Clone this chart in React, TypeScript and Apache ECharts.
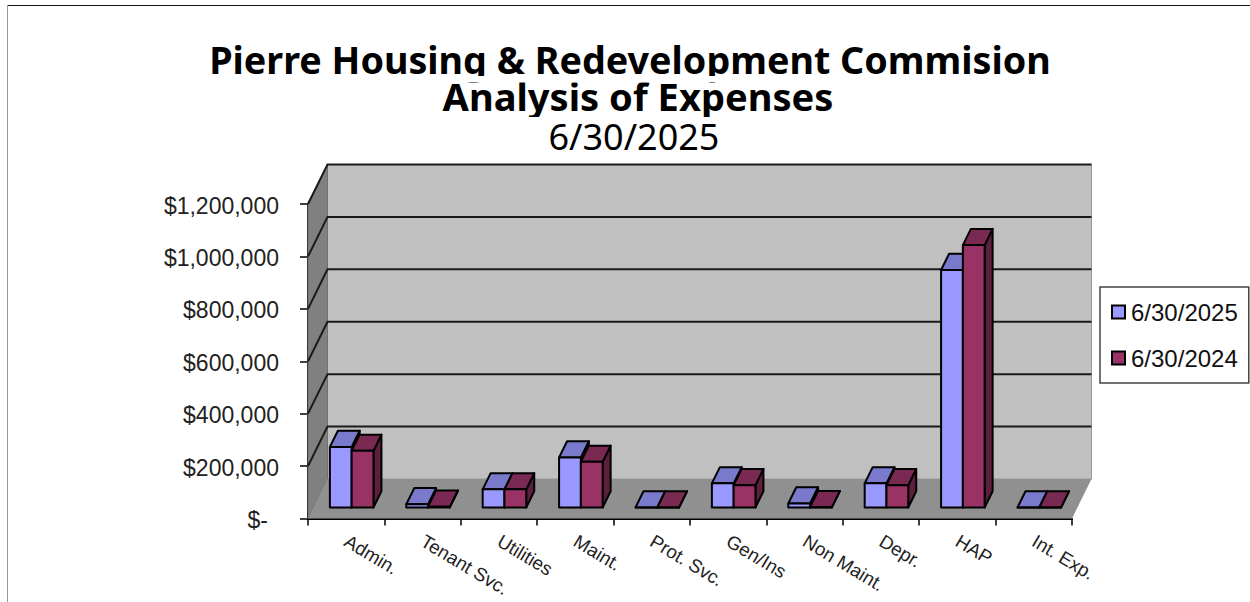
import React, { useEffect, useRef } from "react";
import * as echarts from "echarts";

const titleLines = ["Pierre Housing & Redevelopment Commision", "Analysis of Expenses"];
const dateLine = "6/30/2025";
const categories = ["Admin.", "Tenant Svc.", "Utilities", "Maint.", "Prot. Svc.", "Gen/Ins", "Non Maint.", "Depr.", "HAP", "Int. Exp."];
const fy2025 = [231000, 12000, 69000, 191000, 0, 92000, 15000, 92000, 906000, 0];
const fy2024 = [216000, 3000, 69000, 174000, 0, 85000, 1000, 85000, 1001000, 0];
const seriesNames = ["6/30/2025", "6/30/2024"];
const yTicks = [0, 200000, 400000, 600000, 800000, 1000000, 1200000];

const WALL_DX = 19.5;
const WALL_DY = 39.5;
const BAR_FRONT = 0.28;
const BAR_DEPTH = 0.41;
const BAR_WIDTH = 0.285;

const faces = [
  { front: "#9999FF", top: "#7A7ACC", side: "#5C5C99" },
  { front: "#993366", top: "#7A2952", side: "#5C1F3D" },
];

function polygon(points: number[][], fill: string, stroke?: string, lineWidth = 2) {
  return {
    type: "polygon",
    shape: { points },
    style: { fill, stroke: stroke || "none", lineWidth, lineJoin: "round" },
  };
}

function renderWalls(params: any, api: any) {
  if (params.dataIndex !== 0) return { type: "group", children: [] };
  const c = params.coordSys;
  const l = c.x, r = c.x + c.width, t = c.y, b = c.y + c.height;
  const children: any[] = [
    polygon([[l + WALL_DX, t - WALL_DY], [r + WALL_DX, t - WALL_DY], [r + WALL_DX, b - WALL_DY], [l + WALL_DX, b - WALL_DY]], "#C0C0C0", "#9a9a9a", 1),
    polygon([[l, t], [l + WALL_DX, t - WALL_DY], [l + WALL_DX, b - WALL_DY], [l, b]], "#808080", "#707070", 1),
  ];
  yTicks.forEach((v) => {
    const y = api.coord([0, v])[1];
    if (v === 0) return;
    children.push({
      type: "polyline",
      shape: { points: [[l, y], [l + WALL_DX, y - WALL_DY], [r + WALL_DX, y - WALL_DY]] },
      style: { fill: "none", stroke: "#1a1a1a", lineWidth: 2 },
    });
  });
  children.push(polygon([[l, b], [l + WALL_DX, b - WALL_DY], [r + WALL_DX, b - WALL_DY], [r, b]], "#909090"));
  return { type: "group", children };
}

function makeBars(seriesIndex: number) {
  return (params: any, api: any) => {
    const cat = api.value(0);
    const val = api.value(1);
    const base = api.coord([cat, 0]);
    const top = api.coord([cat, val]);
    const band = api.size([1, 0])[0];
    const w = band * BAR_WIDTH;
    const ox = BAR_FRONT * WALL_DX;
    const oy = BAR_FRONT * WALL_DY;
    const dx = BAR_DEPTH * WALL_DX;
    const dy = BAR_DEPTH * WALL_DY;
    const x0 = base[0] + ox + (seriesIndex === 0 ? -w : 0);
    const x1 = x0 + w;
    const yb = base[1] - oy;
    const yt = top[1] - oy;
    const f = faces[seriesIndex];
    return {
      type: "group",
      children: [
        polygon([[x1, yt], [x1 + dx, yt - dy], [x1 + dx, yb - dy], [x1, yb]], f.side, "#000"),
        polygon([[x0, yt], [x1, yt], [x1 + dx, yt - dy], [x0 + dx, yt - dy]], f.top, "#000"),
        polygon([[x0, yb], [x1, yb], [x1, yt], [x0, yt]], f.front, "#000"),
      ],
    };
  };
}

const pairs = (vals: number[]) => vals.map((v, i) => [i, v]);

export default function App() {
  const ref = useRef<HTMLDivElement>(null);
  useEffect(() => {
    const chart = echarts.init(ref.current!, undefined, { renderer: "svg" });
    const boldTitle = { fontFamily: "Noto Sans", fontWeight: "bold", fontSize: 37.7, lineHeight: 37, color: "#000" };
    chart.setOption({
      animation: false,
      backgroundColor: "#fff",
      title: [
        { text: titleLines[0], left: 630, top: 40.5, padding: 0, textAlign: "center", textStyle: boldTitle },
        { text: titleLines[1], left: 638, top: 77.5, padding: 0, textAlign: "center", textStyle: { ...boldTitle, fontSize: 38.1 } },
        { text: dateLine, left: 634, top: 116, padding: 0, textAlign: "center", textStyle: { fontFamily: "Noto Sans", fontWeight: "normal", fontSize: 36, lineHeight: 40, color: "#000" } },
      ],
      legend: {
        orient: "vertical",
        left: 1100,
        top: 287,
        padding: [13, 11, 13, 11],
        itemGap: 22,
        itemWidth: 13,
        itemHeight: 13,
        borderColor: "#444",
        borderWidth: 1.5,
        backgroundColor: "#fff",
        data: seriesNames,
        icon: "rect",
        textStyle: { fontFamily: "Liberation Sans", fontSize: 24, color: "#111", padding: [0, 0, 0, 1] },
      },
      grid: { left: 308, top: 204, width: 764, height: 314.5 },
      xAxis: {
        type: "category",
        data: categories,
        axisLine: { lineStyle: { color: "#000", width: 2 } },
        axisTick: { show: true, length: 7, alignWithLabel: false, lineStyle: { color: "#000", width: 1.5 } },
        axisLabel: { rotate: -31, interval: 0, margin: 21, fontFamily: "Liberation Sans", fontSize: 18.8, color: "#222" },
        splitLine: { show: false },
      },
      yAxis: {
        type: "value",
        min: 0,
        max: 1200000,
        interval: 200000,
        axisLine: { show: true, lineStyle: { color: "#000", width: 2 } },
        axisTick: { show: true, length: 8, lineStyle: { color: "#000", width: 1.5 } },
        splitLine: { show: false },
        axisLabel: {
          margin: 29,
          fontFamily: "Liberation Sans",
          fontSize: 23,
          color: "#222",
          padding: [3, 0, 0, 0],
          formatter: (v: number) => (v === 0 ? "{z|$-}" : "$" + v.toLocaleString("en-US")),
          rich: { z: { fontFamily: "Liberation Sans", fontSize: 23, color: "#222", padding: [0, 11, 0, 0] } },
        },
      },
      series: [
        { type: "custom", name: "walls", renderItem: renderWalls, data: [[0, 0]], z: 1, silent: true, encode: { x: 0, y: 1 } },
        { type: "custom", name: seriesNames[0], renderItem: makeBars(0), data: pairs(fy2025), z: 2, itemStyle: { color: faces[0].front, borderColor: "#000", borderWidth: 2 }, encode: { x: 0, y: 1 } },
        { type: "custom", name: seriesNames[1], renderItem: makeBars(1), data: pairs(fy2024), z: 3, itemStyle: { color: faces[1].front, borderColor: "#000", borderWidth: 2 }, encode: { x: 0, y: 1 } },
      ],
      graphic: [
        { type: "rect", z: 100, shape: { x: 200, y: 76, width: 860, height: 6.5 }, style: { fill: "#fff" } },
        { type: "rect", z: 100, shape: { x: 200, y: 117, width: 860, height: 4 }, style: { fill: "#fff" } },
        { type: "line", shape: { x1: 7, y1: 5.5, x2: 1250, y2: 5.5 }, style: { stroke: "#111", lineWidth: 1.2 } },
        { type: "line", shape: { x1: 7.5, y1: 5, x2: 7.5, y2: 602 }, style: { stroke: "#999", lineWidth: 1 } },
      ],
    });
    return () => chart.dispose();
  }, []);
  return <div ref={ref} style={{ position: "fixed", left: 0, top: 0, width: 1250, height: 602 }} />;
}
